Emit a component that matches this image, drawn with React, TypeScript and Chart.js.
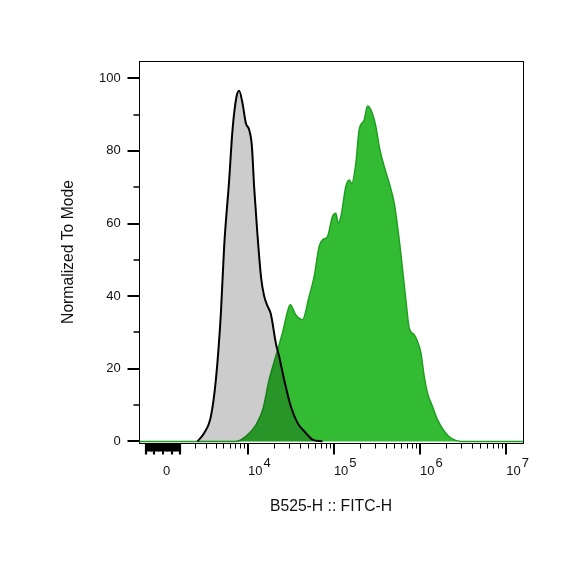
import { useEffect, useRef } from "react";
import { Chart, registerables } from "chart.js";

Chart.register(...registerables);

// Biexponential (arcsinh) display transform, in "decade" units
const BIEX_C = 2083;
const T = (v: number) => Math.log10(BIEX_C / 2) + Math.asinh(v / BIEX_C) / Math.LN10;

// Axis ranges (display units / percent of mode)
const X_MIN = 2.739;
const X_MAX = 7.194;
const Y_MIN = -0.44;
const Y_MAX = 104.76;

// X tick labels (intensity values) and exponents
const xTickValues = [0, 1e4, 1e5, 1e6, 1e7];
const xTickBase = ["0", "10", "10", "10", "10"];
const xTickExp = ["", "4", "5", "6", "7"];
const xNearZeroTicks = [-1000, -900, -800, -700, -600, -500, -400, -300, -200, -100, 100, 200, 300, 400, 500, 600, 700, 800, 900, 1000];
const xMinorMultipliers = [2, 3, 4, 5, 6, 7, 8, 9];
const xMinorDecades = [1e3, 1e4, 1e5, 1e6];

// Y ticks
const yTickValues = [0, 20, 40, 60, 80, 100];
const yMinorValues = [10, 30, 50, 70, 90];

// Stained sample (green) histogram: position in display decades, % of mode
const greenPos = [2.739, 3.863, 3.979, 4.095, 4.178, 4.249, 4.327, 4.41, 4.465, 4.493, 4.559, 4.636, 4.713, 4.771, 4.829, 4.868, 4.926, 4.984, 5.023, 5.05, 5.081, 5.139, 5.177, 5.208, 5.255, 5.293, 5.351, 5.39, 5.429, 5.487, 5.526, 5.584, 5.642, 5.7, 5.758, 5.835, 5.874, 5.932, 5.97, 6.01, 6.048, 6.086, 6.144, 6.202, 6.28, 6.358, 6.474, 7.194];
const greenVal = [0, 0, 1.4, 4.5, 9, 17, 23.5, 30.5, 36, 37.6, 34.8, 33.5, 39.9, 45.4, 53.7, 55.5, 56.4, 61.9, 62.8, 60.1, 61.9, 70.2, 72, 71.1, 76.6, 85.8, 88.5, 92.4, 91.3, 86.7, 81.2, 75.7, 71.1, 65.6, 55.5, 39.0, 31.2, 29.4, 27.5, 24.3, 17.9, 13.3, 9.6, 6.0, 2.8, 0.9, 0, 0];

// Unstained control (gray) histogram
const grayPos = [3.418, 3.495, 3.573, 3.631, 3.689, 3.727, 3.785, 3.824, 3.87, 3.901, 3.94, 3.979, 4.017, 4.049, 4.075, 4.11, 4.156, 4.191, 4.226, 4.269, 4.327, 4.365, 4.423, 4.501, 4.578, 4.675, 4.752, 4.868];
const grayVal = [0, 2.3, 6.9, 17, 35.3, 53.7, 72, 85.8, 94.9, 96.6, 93.1, 87.6, 85.8, 81.2, 70, 58, 45, 40, 37.5, 35, 27, 23.4, 17, 9.6, 5.1, 2.3, 0.5, 0];

const FONT = "'Liberation Sans', Arial, Helvetica, sans-serif";
const TITLE_SIZE = 15.7;

const flowPlugin = {
  id: "flowFrame",
  beforeDatasetsDraw(chart: any) {
    const { ctx, chartArea: a } = chart;
    ctx.save();
    ctx.strokeStyle = "#000";
    ctx.lineWidth = 1;
    const l = Math.floor(a.left) + 0.5;
    const r = Math.floor(a.right) + 0.5;
    const t = Math.floor(a.top) + 0.5;
    const b = Math.floor(a.bottom) + 0.5;
    ctx.strokeRect(l, t, r - l, b - t);
    ctx.restore();
  },
  afterDraw(chart: any) {
    const { ctx, chartArea: a, scales } = chart;
    const xs = scales.x;
    const ys = scales.y;
    ctx.save();
    ctx.strokeStyle = "#000";
    // y ticks
    const yl = Math.floor(a.left) + 0.5;
    ctx.lineWidth = 2;
    yTickValues.forEach((v) => {
      const py = Math.round(ys.getPixelForValue(v));
      ctx.beginPath();
      ctx.moveTo(yl - 12, py);
      ctx.lineTo(yl, py);
      ctx.stroke();
    });
    ctx.lineWidth = 1.5;
    yMinorValues.forEach((v) => {
      const py = Math.round(ys.getPixelForValue(v));
      ctx.beginPath();
      ctx.moveTo(yl - 6, py);
      ctx.lineTo(yl, py);
      ctx.stroke();
    });
    // x ticks
    const xb = Math.floor(a.bottom) + 0.5;
    ctx.lineWidth = 2;
    xTickValues.forEach((v) => {
      const px = Math.round(xs.getPixelForValue(T(v)));
      ctx.beginPath();
      ctx.moveTo(px, xb);
      ctx.lineTo(px, xb + 11);
      ctx.stroke();
    });
    ctx.lineWidth = 2.2;
    xNearZeroTicks.forEach((v) => {
      const px = Math.round(xs.getPixelForValue(T(v)));
      if (px < a.left) return;
      ctx.beginPath();
      ctx.moveTo(px, xb);
      ctx.lineTo(px, xb + (Math.abs(v) % 500 === 0 ? 11 : 8));
      ctx.stroke();
    });
    ctx.lineWidth = 1;
    xMinorDecades.forEach((d) => {
      xMinorMultipliers.forEach((m) => {
        const px = Math.round(xs.getPixelForValue(T(m * d))) + 0.5;
        ctx.beginPath();
        ctx.moveTo(px, xb);
        ctx.lineTo(px, xb + 5);
        ctx.stroke();
      });
    });
    // exponents of the decade labels
    ctx.fillStyle = "#111";
    ctx.font = `13px ${FONT}`;
    ctx.textAlign = "left";
    ctx.textBaseline = "middle";
    const labelMid = xs.top + 11 + 10 + 7.8;
    xTickValues.forEach((v, i) => {
      if (!xTickExp[i]) return;
      const px = xs.getPixelForValue(T(v));
      const w = ctx.measureText(xTickBase[i]).width;
      ctx.fillText(xTickExp[i], px + w + 1, labelMid - 8);
    });
    ctx.restore();
  },
};

export default function App() {
  const ref = useRef<HTMLCanvasElement>(null);
  useEffect(() => {
    const green = greenPos.map((x, i) => ({ x, y: greenVal[i] }));
    const gray = grayPos.map((x, i) => ({ x, y: grayVal[i] }));
    const chart = new Chart(ref.current!, {
      type: "line",
      data: {
        datasets: [
          {
            label: "Unstained",
            data: gray,
            order: 0,
            fill: "origin",
            backgroundColor: "rgba(0,0,0,0.2)",
            borderColor: "#000",
            borderWidth: 2,
            pointRadius: 0,
            cubicInterpolationMode: "monotone",
          },
          {
            label: "FITC",
            data: green,
            order: 1,
            fill: "origin",
            backgroundColor: "#33bb33",
            borderColor: "#1f9f1f",
            borderWidth: 1.5,
            pointRadius: 0,
            cubicInterpolationMode: "monotone",
          },
        ],
      },
      options: {
        animation: false,
        responsive: false,
        maintainAspectRatio: false,
        devicePixelRatio: 1,
        layout: { padding: { top: 61, right: 61, left: 0, bottom: 0 } },
        plugins: { legend: { display: false }, tooltip: { enabled: false } },
        scales: {
          x: {
            type: "linear",
            position: "bottom",
            min: X_MIN,
            max: X_MAX,
            afterBuildTicks: (s: any) => {
              s.ticks = xTickValues.map((v) => ({ value: T(v) }));
            },
            afterFit: (s: any) => {
              s.height = 132;
            },
            ticks: {
              autoSkip: false,
              maxRotation: 0,
              minRotation: 0,
              align: "start",
              padding: 10,
              color: "#111",
              font: { family: FONT, size: 13 },
              callback: (_v: any, i: number) => xTickBase[i],
            },
            grid: { display: false, drawTicks: true, tickLength: 11 },
            border: { display: false },
            title: {
              display: true,
              text: "B525-H :: FITC-H",
              color: "#111",
              font: { family: FONT, size: TITLE_SIZE },
              padding: { top: 0, bottom: 59.1 },
            },
          },
          y: {
            type: "linear",
            min: Y_MIN,
            max: Y_MAX,
            afterBuildTicks: (s: any) => {
              s.ticks = yTickValues.map((v) => ({ value: v }));
            },
            afterFit: (s: any) => {
              s.width = 139;
            },
            ticks: {
              padding: 6.3,
              color: "#111",
              font: { family: FONT, size: 13 },
              callback: (v: any) => String(v),
            },
            grid: { display: false, drawTicks: true, tickLength: 12 },
            border: { display: false },
            title: {
              display: true,
              text: "Normalized To Mode",
              color: "#111",
              font: { family: FONT, size: TITLE_SIZE },
              padding: { top: 58.9, bottom: 0 },
            },
          },
        },
      },
      plugins: [flowPlugin],
    } as any);
    return () => chart.destroy();
  }, []);
  return (
    <div style={{ position: "fixed", left: 0, top: 0, width: 584, height: 575, background: "#fff" }}>
      <canvas ref={ref} width={584} height={575} style={{ display: "block" }} />
    </div>
  );
}
